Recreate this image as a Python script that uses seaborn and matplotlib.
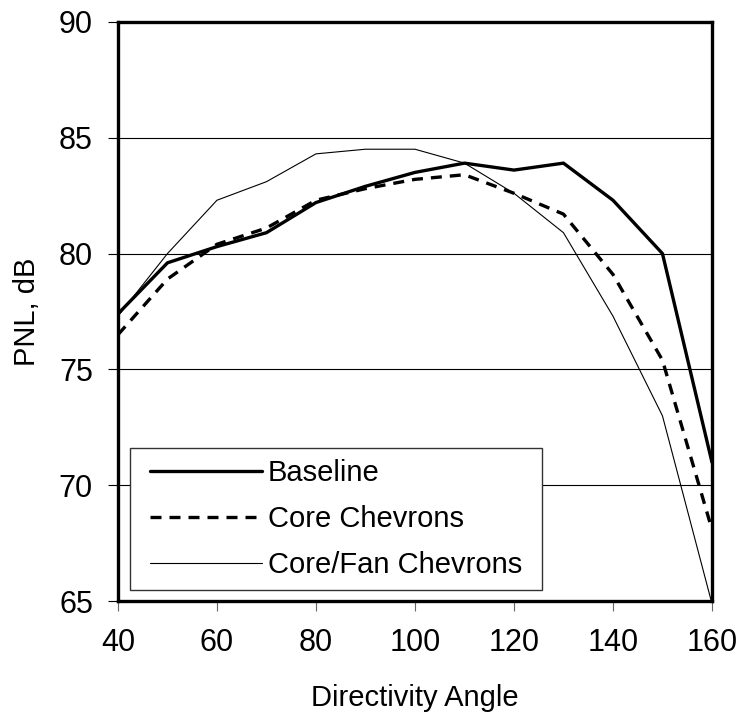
import matplotlib
matplotlib.use("Agg")
import numpy as np
import matplotlib.pyplot as plt
import seaborn as sns
import pandas as pd
from matplotlib.lines import Line2D
from matplotlib.legend_handler import HandlerLine2D

# Directivity angle (deg) and perceived noise level (dB) per configuration
angles = [40, 50, 60, 70, 80, 90, 100, 110, 120, 130, 140, 150, 160]
baseline = [77.4, 79.6, 80.3, 80.9, 82.2, 82.9, 83.5, 83.9, 83.6, 83.9, 82.3, 80.0, 71.0]
core_chevrons = [76.5, 78.9, 80.4, 81.1, 82.3, 82.8, 83.2, 83.4, 82.6, 81.7, 79.1, 75.4, 68.1]
core_fan_chevrons = [77.3, 80.0, 82.3, 83.1, 84.3, 84.5, 84.5, 83.9, 82.6, 80.9, 77.3, 73.0, 64.9]

series_names = ["Baseline", "Core Chevrons", "Core/Fan Chevrons"]
x_ticks = [40, 60, 80, 100, 120, 140, 160]
y_ticks = [65, 70, 75, 80, 85, 90]

df = pd.DataFrame({
    "angle": angles * 3,
    "pnl": baseline + core_chevrons + core_fan_chevrons,
    "series": [series_names[0]] * len(angles)
              + [series_names[1]] * len(angles)
              + [series_names[2]] * len(angles),
})

sns.set_style("white")
plt.rcParams["font.family"] = ["Liberation Sans", "DejaVu Sans"]
plt.rcParams["text.color"] = "black"
plt.rcParams["axes.labelcolor"] = "black"
plt.rcParams["xtick.color"] = "black"
plt.rcParams["ytick.color"] = "black"

fig = plt.figure(figsize=(7.42, 7.24), dpi=100)
ax = fig.add_axes([0.159, 0.1695, 0.8005, 0.8005])

line_styles = {
    "Baseline": dict(lw=2.4, ls="-"),
    "Core Chevrons": dict(lw=2.4, ls=(0, (3.3, 2.4))),
    "Core/Fan Chevrons": dict(lw=0.8, ls="-"),
}

for name in series_names:
    sub = df[df["series"] == name]
    sns.lineplot(data=sub, x="angle", y="pnl", ax=ax, color="black",
                 linewidth=line_styles[name]["lw"],
                 linestyle=line_styles[name]["ls"], legend=False,
                 zorder=3)

ax.set_xlim(40, 160)
ax.set_ylim(65, 90)
ax.set_xticks(x_ticks)
ax.set_yticks(y_ticks)
ax.yaxis.grid(True, color="black", linewidth=0.8)
ax.xaxis.grid(False)
ax.set_axisbelow(True)

for side in ["left", "right", "top", "bottom"]:
    ax.spines[side].set_visible(True)
    ax.spines[side].set_color("black")
    ax.spines[side].set_linewidth(2.4)

ax.tick_params(axis="y", direction="out", length=7, width=0.8, color="black",
               labelsize=22, pad=11, left=True)
ax.tick_params(axis="x", direction="out", length=7, width=0.8, color="#666666",
               labelsize=22, pad=12, bottom=True)

ax.set_xlabel("Directivity Angle", fontsize=21, labelpad=19)
ax.set_ylabel("PNL, dB", fontsize=21, labelpad=13)


class InsetLineHandler(HandlerLine2D):
    """Legend line sample that starts a little in from the frame edge."""

    def __init__(self, inset=6.5, **kw):
        super().__init__(**kw)
        self.inset = inset

    def create_artists(self, legend, orig_handle, xdescent, ydescent,
                       width, height, fontsize, trans):
        artists = super().create_artists(legend, orig_handle, xdescent,
                                         ydescent, width, height, fontsize,
                                         trans)
        for a in artists:
            xd = np.asarray(a.get_xdata(), dtype=float)
            if len(xd) >= 2:
                a.set_xdata(np.linspace(xd[0] + self.inset, xd[-1], len(xd)))
        return artists


handles = [
    Line2D([], [], color="black", lw=line_styles[n]["lw"], ls=line_styles[n]["ls"])
    for n in series_names
]
leg = ax.legend(handles, series_names, loc="lower left",
                bbox_to_anchor=(0.02, 0.019, 0.694, 0.243), mode="expand",
                borderaxespad=0, fontsize=21, handlelength=4.15,
                handletextpad=0.2, labelspacing=0.62, borderpad=0.38,
                fancybox=False, framealpha=1, edgecolor="#333333",
                handler_map={Line2D: InsetLineHandler(inset=6.5)})
leg.get_frame().set_linewidth(1.0)
leg.set_zorder(5)

fig.savefig("out.png", dpi=100)
